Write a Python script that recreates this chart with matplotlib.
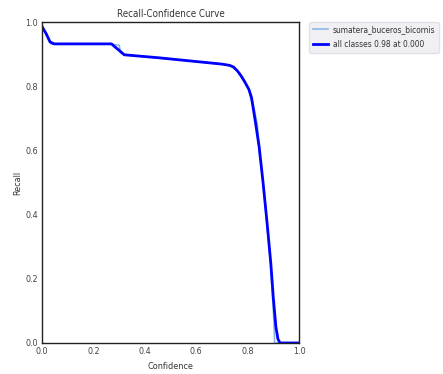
import matplotlib
matplotlib.use('Agg')
import matplotlib.pyplot as plt

plt.rcParams['font.family'] = ['DejaVu Sans']
plt.rcParams['font.stretch'] = 'condensed'

# all classes curve
conf_all = [0.000, 0.015, 0.031, 0.047, 0.120, 0.200, 0.270, 0.295, 0.320,
            0.450, 0.600, 0.700, 0.730, 0.745, 0.760, 0.775, 0.790, 0.805,
            0.815, 0.830, 0.845, 0.860, 0.875, 0.890, 0.900, 0.910, 0.918,
            0.926, 0.960, 1.000]
recall_all = [0.985, 0.965, 0.938, 0.932, 0.932, 0.932, 0.932, 0.915, 0.898,
              0.889, 0.877, 0.869, 0.865, 0.860, 0.848, 0.832, 0.812, 0.790,
              0.765, 0.690, 0.610, 0.500, 0.380, 0.250, 0.140, 0.050, 0.012,
              0.000, 0.000, 0.000]

# single class curve (thin, with small steps)
conf_cls = [0.000, 0.015, 0.028, 0.034, 0.047, 0.270, 0.275, 0.300, 0.305,
            0.320, 0.600, 0.730, 0.760, 0.790, 0.805, 0.812, 0.820, 0.838,
            0.846, 0.860, 0.875, 0.890, 0.900, 0.903, 0.905, 1.000]
recall_cls = [0.990, 0.965, 0.945, 0.932, 0.932, 0.932, 0.930, 0.928, 0.906,
              0.898, 0.877, 0.866, 0.848, 0.810, 0.790, 0.760, 0.750, 0.680,
              0.590, 0.500, 0.370, 0.240, 0.100, 0.050, 0.000, 0.000]

class_name = 'sumatera_buceros_bicornis'
all_label = 'all classes 0.98 at 0.000'

fig = plt.figure(figsize=(4.43, 3.74), dpi=100, facecolor='white')
ax = fig.add_axes([0.095, 0.083, 0.58, 0.858])

ax.plot(conf_cls, recall_cls, color='#8ab8e6', linewidth=1.2, label=class_name)
ax.plot(conf_all, recall_all, color='blue', linewidth=2, label=all_label)

ax.set_xlim(0, 1)
ax.set_ylim(0, 1)
ax.set_xticks([0, 0.2, 0.4, 0.6, 0.8, 1.0])
ax.set_yticks([0, 0.2, 0.4, 0.6, 0.8, 1.0])
ax.tick_params(length=0, labelsize=6.5, colors='#444444', pad=3)
for sp in ax.spines.values():
    sp.set_edgecolor('#222222')
    sp.set_linewidth(1)
ax.set_xlabel('Confidence', fontsize=6.5, color='#333333', labelpad=4)
ax.set_ylabel('Recall', fontsize=6.5, color='#333333', labelpad=2)
ax.set_title('Recall-Confidence Curve', fontsize=7, color='#333333', pad=4)

ax.legend(bbox_to_anchor=(1.04, 1), loc='upper left', fontsize=6.0,
          facecolor='#f0f0f4', edgecolor='#e0e0e6', framealpha=1,
          handlelength=1.8, handletextpad=0.6, labelspacing=0.7,
          borderaxespad=0, labelcolor='#333333')

fig.savefig('out.png', dpi=100)
